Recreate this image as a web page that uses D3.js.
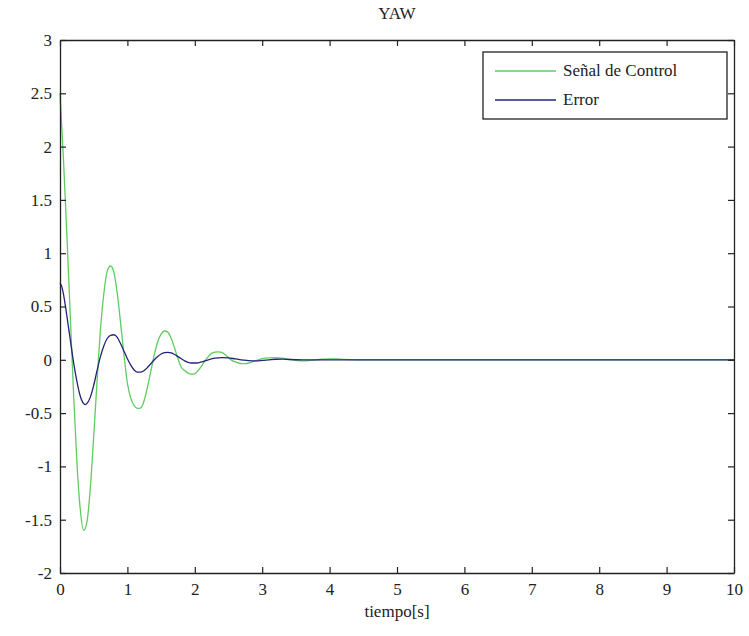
<!DOCTYPE html>
<html>
<head>
<meta charset="utf-8">
<script src="https://cdn.jsdelivr.net/npm/d3@7"></script>
<style>
  body { margin: 0; background: #fff; }
  text { font-family: "Liberation Serif", "DejaVu Serif", serif; fill: #222; }
</style>
</head>
<body>
<div id="chart"></div>
<script>
// Values
var controlTime = [0, 0.05, 0.10, 0.15, 0.20, 0.25, 0.30, 0.35, 0.40, 0.45, 0.50, 0.55, 0.60, 0.65, 0.70, 0.75,
  0.80, 0.85, 0.90, 0.95, 1.00, 1.05, 1.10, 1.15, 1.20, 1.25, 1.30, 1.35, 1.40, 1.45, 1.50, 1.55, 1.60,
  1.65, 1.70, 1.75, 1.80, 1.85, 1.90, 1.95, 2.00, 2.05, 2.10, 2.15, 2.20, 2.25, 2.30, 2.35, 2.40, 2.45,
  2.50, 2.55, 2.60, 2.65, 2.70, 2.75, 2.80, 2.85, 2.90, 3.0, 3.1, 3.2, 3.3, 3.4, 3.5, 3.6, 3.7, 3.8,
  3.9, 4.0, 4.1, 4.2, 4.4, 10];
var controlSignal = [2.5, 1.9, 1.2, 0.45, -0.3, -0.95, -1.4, -1.6, -1.52, -1.2, -0.72, -0.2, 0.28, 0.62, 0.83, 0.88,
  0.82, 0.62, 0.34, 0.04, -0.22, -0.36, -0.43, -0.455, -0.45, -0.38, -0.25, -0.1, 0.05, 0.17, 0.24, 0.27, 0.26,
  0.2, 0.11, 0.01, -0.07, -0.10, -0.125, -0.135, -0.13, -0.1, -0.06, -0.01, 0.03, 0.06, 0.072, 0.075, 0.07, 0.05,
  0.02, -0.005, -0.02, -0.03, -0.035, -0.035, -0.03, -0.02, -0.01, 0.01, 0.018, 0.02, 0.015, 0.005, -0.005, -0.01, -0.008, 0,
  0.005, 0.008, 0.008, 0.004, 0, 0];

var errorTime = [0, 0.03, 0.05, 0.10, 0.15, 0.20, 0.25, 0.30, 0.35, 0.38, 0.40, 0.45, 0.50, 0.55, 0.60, 0.65,
  0.70, 0.75, 0.80, 0.85, 0.90, 0.95, 1.00, 1.05, 1.10, 1.15, 1.20, 1.25, 1.30, 1.35, 1.40, 1.45, 1.50,
  1.55, 1.60, 1.65, 1.70, 1.75, 1.80, 1.85, 1.90, 1.95, 2.0, 2.05, 2.1, 2.2, 2.3, 2.4, 2.5, 2.6, 2.7,
  2.8, 2.9, 3.0, 3.1, 3.2, 3.3, 3.4, 3.6, 10];
var errorSignal = [0.72, 0.68, 0.62, 0.42, 0.2, -0.02, -0.2, -0.34, -0.41, -0.42, -0.41, -0.35, -0.24, -0.1, 0.03, 0.13,
  0.2, 0.23, 0.235, 0.21, 0.15, 0.08, 0.01, -0.05, -0.095, -0.115, -0.115, -0.1, -0.07, -0.035, 0.0, 0.03, 0.055,
  0.068, 0.07, 0.065, 0.05, 0.03, 0.01, -0.01, -0.025, -0.03, -0.03, -0.028, -0.02, 0.0, 0.015, 0.02, 0.018, 0.008, 0,
  -0.008, -0.01, -0.006, 0, 0.005, 0.006, 0.003, 0, 0];

var xTicks = [0, 1, 2, 3, 4, 5, 6, 7, 8, 9, 10];
var yTicks = [-2, -1.5, -1, -0.5, 0, 0.5, 1, 1.5, 2, 2.5, 3];
var seriesNames = ["Señal de Control", "Error"];
var seriesColors = ["#5fcc5f", "#23237e"];

var svgWidth = 749;
var svgHeight = 636;
var margin = { top: 40, right: 15, bottom: 63, left: 60 };
var width = svgWidth - margin.left - margin.right;
var height = svgHeight - margin.top - margin.bottom;

var svg = d3.select("#chart")
  .append("svg")
  .attr("width", svgWidth)
  .attr("height", svgHeight);

var g = svg.append("g")
  .attr("transform", `translate(${margin.left}, ${margin.top})`);

var x = d3.scaleLinear().domain([0, 10]).range([0, width]);
var y = d3.scaleLinear().domain([-2, 3]).range([height, 0]);

// Data lines
var line = d3.line()
  .x(d => x(d[0]))
  .y(d => y(d[1]))
  .curve(d3.curveMonotoneX);

var seriesData = [
  d3.zip(controlTime, controlSignal),
  d3.zip(errorTime, errorSignal)
];

g.selectAll(".series")
  .data(seriesData)
  .enter()
  .append("path")
  .attr("class", "series")
  .attr("d", line)
  .attr("fill", "none")
  .attr("stroke", (d, i) => seriesColors[i])
  .attr("stroke-width", 1.3);

// Axes with inward ticks, box style (plain number labels like "2.5", "-2")
var plain = d => String(d);

function styleAxis(sel) {
  sel.select(".domain").attr("stroke", "#222").attr("stroke-width", 1.3);
  sel.selectAll(".tick line").attr("stroke", "#222").attr("stroke-width", 1.2);
}

g.append("g")
  .attr("transform", `translate(0, ${height})`)
  .call(d3.axisBottom(x).tickValues(xTicks).tickFormat(plain).tickSizeInner(-6).tickSizeOuter(0).tickPadding(10))
  .call(styleAxis)
  .selectAll("text").attr("font-size", 17).attr("fill", "#222");

g.append("g")
  .call(d3.axisLeft(y).tickValues(yTicks).tickFormat(plain).tickSizeInner(-6).tickSizeOuter(0).tickPadding(8))
  .call(styleAxis)
  .selectAll("text").attr("font-size", 17).attr("fill", "#222");

g.append("g")
  .call(d3.axisTop(x).tickValues(xTicks).tickSizeInner(-6).tickSizeOuter(0).tickFormat(""))
  .call(styleAxis);

g.append("g")
  .attr("transform", `translate(${width}, 0)`)
  .call(d3.axisRight(y).tickValues(yTicks).tickSizeInner(-6).tickSizeOuter(0).tickFormat(""))
  .call(styleAxis);

// Title and axis label
g.append("text")
  .attr("x", width / 2)
  .attr("y", -21)
  .attr("text-anchor", "middle")
  .attr("font-size", 17)
  .text("YAW");

g.append("text")
  .attr("x", width / 2)
  .attr("y", height + 44)
  .attr("text-anchor", "middle")
  .attr("font-size", 17)
  .text("tiempo[s]");

// Legend
var legend = g.append("g")
  .attr("transform", "translate(423, 12)");

legend.append("rect")
  .attr("width", 244)
  .attr("height", 67)
  .attr("fill", "#fff")
  .attr("stroke", "#222")
  .attr("stroke-width", 1.3);

seriesNames.forEach(function(name, i) {
  var row = legend.append("g").attr("transform", `translate(0, ${19 + i * 29})`);
  row.append("line")
    .attr("x1", 12).attr("x2", 73)
    .attr("y1", 0).attr("y2", 0)
    .attr("stroke", seriesColors[i])
    .attr("stroke-width", 1.3);
  row.append("text")
    .attr("x", 80)
    .attr("y", 5)
    .attr("font-size", 17)
    .text(name);
});
</script>
</body>
</html>
